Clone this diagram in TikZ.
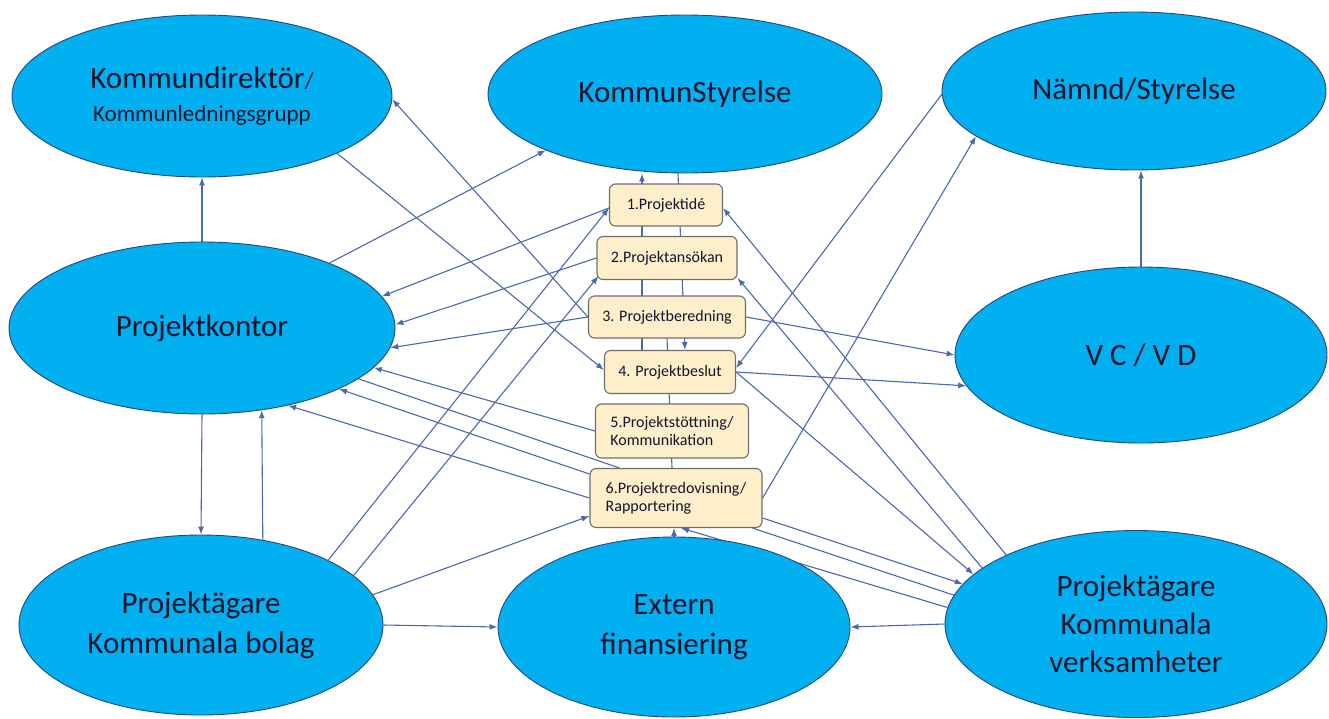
\documentclass[tikz,border=0pt]{standalone}
\usepackage{fontspec}
\setmainfont{Carlito}
\usetikzlibrary{shapes.geometric,arrows.meta,calc}
\definecolor{ellfill}{RGB}{0,176,240}
\definecolor{elldraw}{RGB}{40,70,120}
\definecolor{boxfill}{RGB}{253,239,201}
\definecolor{boxdraw}{RGB}{110,110,110}
\definecolor{linecol}{RGB}{74,105,176}
\definecolor{txtcol}{RGB}{20,20,45}
\pgfdeclarelayer{bg}
\pgfsetlayers{bg,main}
\tikzset{
  ell/.style={ellipse,draw=elldraw,line width=0.9pt,fill=ellfill,inner sep=0pt,
    text=txtcol,align=center,font=\fontsize{31}{40}\selectfont},
  stepbox/.style={rectangle,rounded corners=6pt,draw=boxdraw,line width=1.1pt,fill=boxfill,
    inner sep=0pt,text=txtcol,align=left,font=\fontsize{16}{18}\selectfont},
  conn/.style={draw=linecol,line width=1.1pt,-{Latex[length=8pt,width=6pt]}},
  plainline/.style={draw=linecol,line width=1.1pt},
}
\begin{document}
\begin{tikzpicture}[x=1pt,y=-1pt]
\useasboundingbox (0,0) rectangle (1329,718);
% ellipses
\node[ell,minimum width=380pt,minimum height=162pt,font=\fontsize{31}{33}\selectfont] (kd) at (202,96)
  {Kommundirektör{\fontsize{23}{27}\selectfont/}\\{\fontsize{23}{27}\selectfont Kommunledningsgrupp}};
\node[ell,minimum width=394pt,minimum height=158pt] (ks) at (685,94) {KommunStyrelse};
\node[ell,minimum width=384pt,minimum height=158pt] (ns) at (1134,91) {Nämnd/Styrelse};
\node[ell,minimum width=386pt,minimum height=172pt] (pk) at (202,328) {Projektkontor};
\node[ell,minimum width=372pt,minimum height=176pt] (vc) at (1141,355) {V C / V D};
\node[ell,minimum width=364pt,minimum height=180pt] (pkb) at (201,625) {Projektägare\\Kommunala bolag};
\node[ell,minimum width=352pt,minimum height=180pt] (ef) at (674,627) {Extern\\finansiering};
\node[ell,minimum width=382pt,minimum height=187pt,font=\fontsize{31}{38}\selectfont] (pkv) at (1136,624) {Projektägare\\Kommunala\\verksamheter};
% boxes
\node[stepbox,minimum width=113pt,minimum height=42pt] (b1) at (666,205) {1.Projektidé};
\node[stepbox,minimum width=140pt,minimum height=43pt] (b2) at (667,258) {2.Projektansökan};
\node[stepbox,minimum width=157pt,minimum height=42pt] (b3) at (667,317) {3. Projektberedning};
\node[stepbox,minimum width=131pt,minimum height=43pt] (b4) at (670,372) {4. Projektbeslut};
\node[stepbox,minimum width=153pt,minimum height=54pt] (b5) at (672,431) {5.Projektstöttning/\\Kommunikation};
\node[stepbox,minimum width=172pt,minimum height=59pt] (b6) at (676,498) {6.Projektredovisning/\\Rapportering};
% connectors
\begin{pgfonlayer}{bg}
\fill[white] (0,0) rectangle (1329,718);
\draw[conn] (pk.north) -- (kd.south);
\draw[conn] (kd.-23) -- ([yshift=2pt]b4.west);
\draw[conn] (b3.west) -- (kd.-1);
\draw[conn] (pk.27) -- (ks.202);
\draw[conn] ([yshift=-3pt]b1.west) -- (pk.10);
\draw[conn] (b2.west) -- (pk.1);
\draw[conn] (b3.west) -- (pk.-6);
\draw[conn] (b5.west) -- (pk.-13);
\draw[plainline] (pk.-18.5) -- ([xshift=30pt]b6.north west);
\draw[conn] ([yshift=24pt]b6.west) -- (pk.-24);
\draw[conn] (b6.west) -- (pk.-42);
\draw[conn] (pk.south) -- (pkb.north);
\draw[conn] (pkb.54.3) -- (pk.-54.1);
\draw[conn] (pkb.27) -- ([yshift=-3pt]b1.west);
\draw[conn] (pkb.18) -- ([xshift=2pt,yshift=4pt]b2.south west);
\draw[conn] (pkb.10) -- ([yshift=-18pt]b6.west);
\draw[conn] (pkb.east) -- (ef.west);
\draw[conn] (ef.north) -- (ef.north |- b6.south);
\draw[conn] (pkv.west) -- (ef.east);
\draw[conn] (pkv.175) -- ([xshift=5pt]b6.south);
\draw[plainline] ([xshift=-10pt]b6.south east) -- (pkv.171.6);
\draw[conn] ([yshift=-20pt]b6.east) -- (pkv.167.5);
\draw[conn] (b4.east) -- (pkv.163.2);
\draw[conn] (pkv.160.6) -- ([yshift=2pt]b2.south east);
\draw[conn] (pkv.152.8) -- ([yshift=-3pt]b1.east);
\draw[conn] (ns.181) -- ([yshift=4pt]b4.east);
\draw[conn] (b6.east) -- (ns.196);
\draw[conn] (vc.north) -- (vc.north |- ns.south);
\draw[conn] (b3.east) -- (vc.west);
\draw[conn] (b4.east) -- (vc.190);
\draw[conn] ([xshift=-28pt]b4.north) -- ([xshift=-28pt]b4.north |- ks.south);
\draw[conn] ([xshift=-7pt]ks.south) -- ([xshift=15pt]b4.north);
\draw[plainline] (b3.south) -- ([xshift=-4pt]b6.north);
\end{pgfonlayer}
\end{tikzpicture}
\end{document}
